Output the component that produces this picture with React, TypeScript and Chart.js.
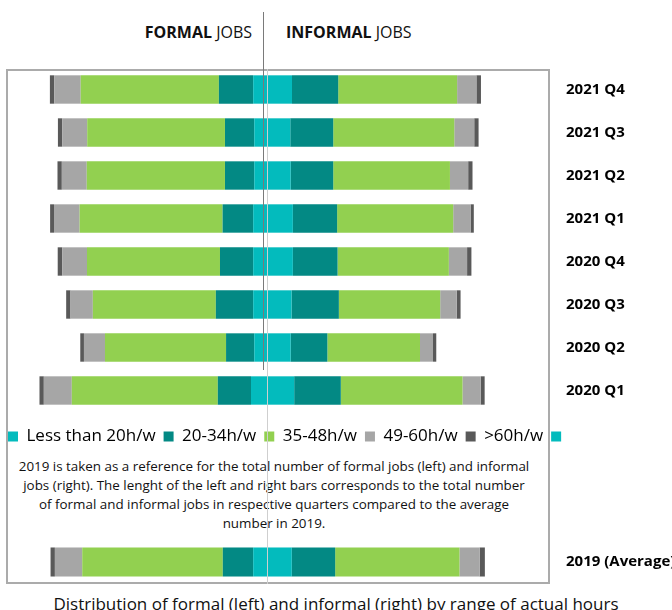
import React, { useEffect, useRef } from 'react';
import { Chart, registerables } from 'chart.js';

Chart.register(...registerables);

const FONT = "'Open Sans', 'DejaVu Sans', sans-serif";

// Categories (top block)
const quarters = ['2021 Q4', '2021 Q3', '2021 Q2', '2021 Q1', '2020 Q4', '2020 Q3', '2020 Q2', '2020 Q1'];

// Series labels & colours
const seriesLabels = ['Less than 20h/w', '20-34h/w', '35-48h/w', '49-60h/w', '>60h/w'];
const seriesColors = ['#03BBBD', '#038984', '#92D050', '#A6A6A6', '#595959'];

// Formal jobs (left), % of the 2019 average total
const formalLess20 = [6.6, 6.1, 6.1, 6.6, 6.6, 6.6, 6.1, 7.6];
const formal20to34 = [15.8, 13.5, 13.5, 14.1, 15.3, 17.2, 13.0, 15.3];
const formal35to48 = [63.7, 63.5, 63.7, 65.9, 61.3, 56.7, 55.8, 67.3];
const formal49to60 = [12.2, 11.5, 11.5, 11.8, 11.4, 10.3, 9.7, 12.9];
const formalOver60 = [2.0, 2.0, 2.0, 1.8, 2.1, 2.0, 1.7, 2.0];

// Informal jobs (right), % of the 2019 average total
const informalLess20 = [11.3, 10.5, 10.7, 11.7, 11.7, 11.1, 10.7, 12.3];
const informal20to34 = [21.3, 19.8, 19.6, 20.4, 20.6, 21.8, 16.9, 21.5];
const informal35to48 = [54.8, 55.8, 53.8, 53.5, 51.3, 46.7, 42.7, 56.1];
const informal49to60 = [8.9, 9.2, 8.4, 8.0, 8.4, 7.6, 6.0, 8.4];
const informalOver60 = [2.1, 2.0, 2.0, 1.5, 2.0, 1.8, 1.5, 1.8];

// Reference block
const refLabel = ['2019 (Average)'];
const ref2019Formal = [6.6, 14.0, 64.8, 12.6, 2.0];
const ref2019Informal = [11.2, 20.0, 57.3, 9.3, 2.4];

const X_MIN = -123.3;
const X_MAX = 129.3;

function buildDatasets(formal: number[][], informal: number[][]) {
  const ds: any[] = [];
  formal.forEach((vals, i) => {
    ds.push({
      label: seriesLabels[i],
      data: vals.map((v) => -v),
      backgroundColor: seriesColors[i],
      stack: 's',
    });
  });
  informal.forEach((vals, i) => {
    ds.push({
      label: i === 0 ? '' : seriesLabels[i] + ' ',
      data: vals,
      backgroundColor: seriesColors[i],
      stack: 's',
    });
  });
  return ds;
}

function baseOptions(showLegend: boolean): any {
  return {
    indexAxis: 'y',
    responsive: false,
    animation: false,
    layout: { padding: 0 },
    datasets: { bar: { barPercentage: 0.66, categoryPercentage: 1 } },
    scales: {
      x: { display: false, stacked: true, min: X_MIN, max: X_MAX },
      y: {
        position: 'right',
        stacked: true,
        grid: { display: false, drawTicks: true, tickLength: 28 },
        border: { display: false },
        ticks: { padding: -10, color: '#000', font: { family: FONT, size: 15, weight: 'bold' } },
        afterFit: (s: any) => {
          s.width = 124;
        },
      },
    },
    plugins: {
      tooltip: { enabled: false },
      legend: showLegend
        ? {
            display: true,
            position: 'bottom',
            align: 'start',
            title: { display: true, text: '', padding: 0, font: { size: 8, lineHeight: 1 } },
            labels: {
              boxWidth: 10,
              boxHeight: 10,
              padding: 8,
              color: '#000',
              font: { family: FONT, size: 17 },
              filter: (item: any) => item.datasetIndex <= 5,
            },
          }
        : { display: false },
    },
  };
}

function BarBlock(props: { labels: string[]; formal: number[][]; informal: number[][]; legend: boolean; top: number; height: number }) {
  const ref = useRef<HTMLCanvasElement | null>(null);
  useEffect(() => {
    if (!ref.current) return;
    const chart = new Chart(ref.current, {
      type: 'bar',
      data: { labels: props.labels, datasets: buildDatasets(props.formal, props.informal) },
      options: baseOptions(props.legend),
    });
    return () => chart.destroy();
  }, []);
  return (
    <canvas
      ref={ref}
      width={672}
      height={props.height}
      style={{ position: 'absolute', left: 0, top: props.top, width: 672, height: props.height, display: 'block' }}
    />
  );
}

export default function App() {
  const topFormal = [formalLess20, formal20to34, formal35to48, formal49to60, formalOver60];
  const topInformal = [informalLess20, informal20to34, informal35to48, informal49to60, informalOver60];
  const refFormal = ref2019Formal.map((v) => [v]);
  const refInformal = ref2019Informal.map((v) => [v]);
  const txt: React.CSSProperties = { position: 'absolute', fontFamily: FONT, color: '#111', whiteSpace: 'nowrap' };
  return (
    <div style={{ position: 'absolute', left: 0, top: 0, width: 672, height: 610, overflow: 'hidden', background: '#fff' }}>
      <div style={{ ...txt, left: 0, width: 252, top: 20, fontSize: 16, lineHeight: '24px', textAlign: 'right' }}>
        <b>FORMAL</b> JOBS
      </div>
      <div style={{ ...txt, left: 286, top: 20, fontSize: 16, lineHeight: '24px' }}>
        <b>INFORMAL</b> JOBS
      </div>
      <div style={{ position: 'absolute', left: 6, top: 69, width: 544, height: 515, border: '2px solid #ababab', boxSizing: 'border-box' }} />
      <BarBlock labels={quarters} formal={topFormal} informal={topInformal} legend={true} top={68} height={387} />
      <BarBlock labels={refLabel} formal={refFormal} informal={refInformal} legend={false} top={540} height={44} />
      <div style={{ ...txt, left: 0, width: 548, top: 457, fontSize: 13.4, lineHeight: '19px', textAlign: 'center' }}>
        2019 is taken as a reference for the total number of formal jobs (left) and informal
        <br />
        jobs (right). The lenght of the left and right bars corresponds to the total number
        <br />
        of formal and informal jobs in respective quarters compared to the average
        <br />
        number in 2019.
      </div>
      <div style={{ ...txt, left: 0, width: 672, top: 593, fontSize: 17, lineHeight: '22px', textAlign: 'center' }}>
        Distribution of formal (left) and informal (right) by range of actual hours
      </div>
      <div style={{ position: 'absolute', left: 267, top: 69, width: 1, height: 515, background: '#cfcfcf' }} />
      <div style={{ position: 'absolute', left: 263, top: 12, width: 1, height: 358, background: '#7a7a7a' }} />
    </div>
  );
}
